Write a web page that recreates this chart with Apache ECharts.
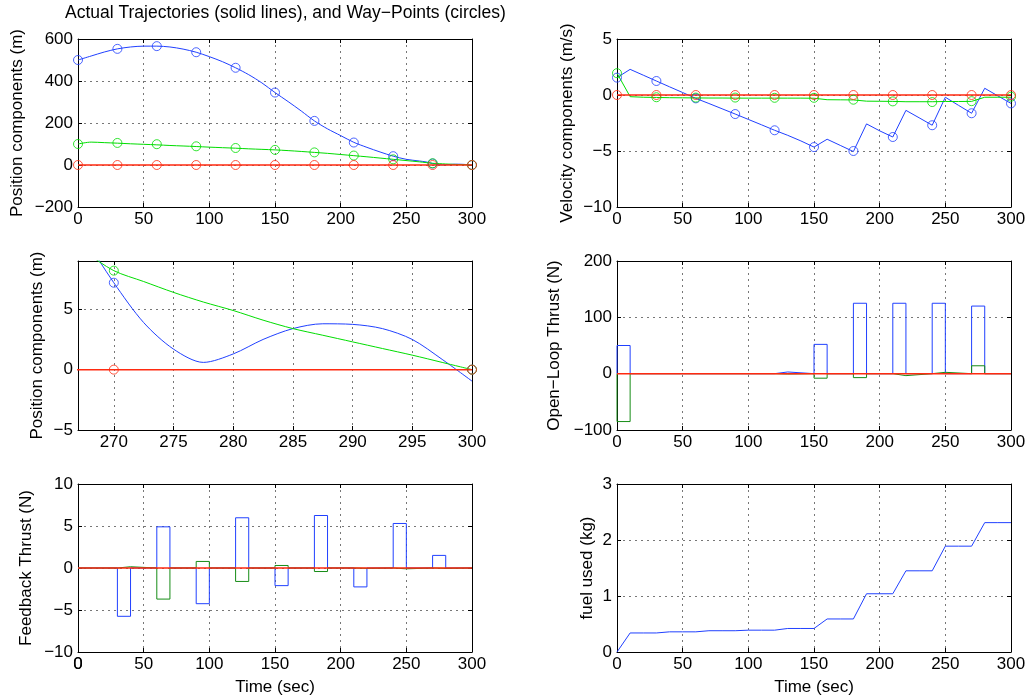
<!DOCTYPE html>
<html><head><meta charset="utf-8">
<script src="https://cdn.jsdelivr.net/npm/echarts@6/dist/echarts.min.js"></script>
<style>html,body{margin:0;padding:0;background:#fff}#c{width:1029px;height:700px}</style>
</head><body><div id="c"></div>
<script>
// ---------- DATA ----------
const titleText = 'Actual Trajectories (solid lines), and Way\u2212Points (circles)';
// actual trajectory samples (s)
const trajT = [0,10,20,30,40,50,60,70,80,90,100,110,120,130,140,150,160,170,180,190,200,210,220,230,240,250,260,265,267.5,270,272.5,275,277.5,280,282.5,285,287.5,290,292.5,295,297.5,300];
const posX = [500,519,538,553,562,566,566,562,552,537,516,492,463,430,391,345,302,257,210,172,140,108,84,62,42,27,19,14.8,11.0,7.2,3.9,1.7,0.6,1.3,2.5,3.4,3.8,3.75,3.4,2.5,0.85,-0.95];
const posY = [100,109,106.5,104,101,98.5,96,93,90.5,88,85,82.5,80,77,74.5,72,68.5,64.5,60,55.5,50,44.5,39,33,27,21,15,11.4,9.8,8.2,7.3,6.4,5.6,4.9,4.1,3.4,2.85,2.3,1.75,1.2,0.6,0];
const posZ = [0,0,0,0,0,0,0,0,0,0,0,0,0,0,0,0,0,0,0,0,0,0,0,0,0,0,0,0,0,0,0,0,0,0,0,0,0,0,0,0,0,0];
// way-points
const wpT = [0,30,60,90,120,150,180,210,240,270,300];
const wpPosX = [500,553,566,537,463,345,210,107,42,7.2,0];
const wpPosY = [100,105,99,89,81,72,60,45,27,8.2,0];
const wpPosZ = [0,0,0,0,0,0,0,0,0,0,0];
const wpVelX = [1.55,1.25,-0.3,-1.7,-3.15,-4.65,-5.0,-3.75,-2.7,-1.63,-0.75];
const wpVelY = [1.95,-0.2,-0.23,-0.23,-0.25,-0.25,-0.42,-0.57,-0.63,-0.55,-0.15];
const wpVelZ = [0,0,0,0,0,0,0,0,0,0,0];
// velocity & fuel samples
const velT = [0,10,20,30,40,50,60,70,80,90,100,110,120,130,140,150,160,170,180,190,200,210,220,230,240,250,260,270,280,290,300];
const velX = [1.55,2.29,1.77,1.25,0.73,0.22,-0.3,-0.76,-1.23,-1.7,-2.18,-2.66,-3.15,-3.6,-4.1,-4.65,-3.95,-4.5,-5.05,-2.58,-3.2,-3.75,-1.37,-2.03,-2.7,-0.2,-0.92,-1.63,0.6,-0.08,-0.75];
const velY = [1.95,-0.15,-0.2,-0.22,-0.24,-0.25,-0.26,-0.27,-0.27,-0.28,-0.28,-0.28,-0.28,-0.28,-0.28,-0.29,-0.42,-0.43,-0.44,-0.55,-0.56,-0.57,-0.6,-0.6,-0.6,-0.58,-0.58,-0.57,-0.2,-0.2,-0.2];
const velZ = [0,0,0,0,0,0,0,0,0,0,0,0,0,0,0,0,0,0,0,0,0,0,0,0,0,0,0,0,0,0,0];
const fuel = [0,0.34,0.34,0.34,0.36,0.36,0.36,0.38,0.38,0.38,0.39,0.39,0.39,0.42,0.42,0.42,0.59,0.59,0.59,1.04,1.04,1.04,1.45,1.45,1.45,1.89,1.89,1.89,2.31,2.31,2.31];
// thrust burns (start time, 10 s each)
const BURN = 10, T_END = 300;
const olStart = [0,120,150,180,210,240,270];
const olX = [50,3,52,125,125,125,120];
const olY = [-85,-0.6,-8,-7,-3.5,2.4,14];
const olZ = [0,0,0,0,0,0,0];
const fbStart = [30,60,90,120,150,180,210,240,270];
const fbX = [-5.75,4.9,-4.25,5.98,-2.1,6.25,-2.25,5.3,1.5];
const fbY = [0.15,-3.7,0.78,-1.6,0.3,-0.42,-0.05,-0.1,-0.05];
const fbZ = [0,0,0,0,0,0,0,0,0];

// ---------- STYLE ----------
const F = "'Liberation Sans', Arial, Helvetica, sans-serif";
const BLUE = '#2040ff', GREEN = '#00dd00', DGREEN = '#168c16', RED = '#ff2a10';
const minus = v => String(v).replace('-', '\u2212');

const grids = [
  {left:78, top:39, width:394, height:168},
  {left:617, top:39, width:394, height:168},
  {left:78, top:261, width:394, height:169},
  {left:617, top:261, width:394, height:169},
  {left:78, top:484, width:394, height:168},
  {left:617, top:484, width:394, height:168}
];
const xAxes = [], yAxes = [], nameAxes = [];
function addAxes(gi, xr, yr, yName, yGap, xName, extra) {
  extra = extra || {};
  const gridLine = {show:true, lineStyle:{color:'#777', type:[2,4], width:1}};
  const tick = {show:true, inside:true, length:4, lineStyle:{color:'#000', width:1}};
  const line = {show:true, onZero:false, lineStyle:{color:'#000', width:1}};
  const lab = {color:'#000', fontSize:17, fontFamily:F, formatter:minus, hideOverlap:false};
  xAxes.push({type:'value', gridIndex:gi, position:'bottom', min:xr[0], max:xr[1], interval:xr[2],
    axisLine:line, axisTick:tick, splitLine:gridLine,
    axisLabel:Object.assign({margin:4, showMinLabel:extra.xShowMin !== false, showMaxLabel:true}, lab)});
  xAxes.push({type:'value', gridIndex:gi, position:'top', min:xr[0], max:xr[1], interval:xr[2],
    axisLine:line, axisTick:tick, splitLine:{show:false}, axisLabel:{show:false}});
  if (xName) {
    nameAxes.push({type:'value', gridIndex:gi, position:'bottom', min:xr[0], max:xr[1], interval:xr[2],
      axisLine:{show:false, onZero:false}, axisTick:{show:false}, axisLabel:{show:false}, splitLine:{show:false},
      name:xName, nameLocation:'middle', nameGap:27,
      nameTextStyle:{color:'#000', fontSize:17, fontFamily:F}});
  }
  yAxes.push({type:'value', gridIndex:gi, position:'left', min:yr[0], max:yr[1], interval:yr[2],
    axisLine:line, axisTick:tick, splitLine:gridLine,
    axisLabel:Object.assign({margin:5, showMinLabel:true, showMaxLabel:extra.yShowMax !== false}, lab),
    name:yName, nameLocation:'middle', nameGap:yGap,
    nameTextStyle:{color:'#000', fontSize:17, fontFamily:F}});
  yAxes.push({type:'value', gridIndex:gi, position:'right', min:yr[0], max:yr[1], interval:yr[2],
    axisLine:line, axisTick:tick, splitLine:{show:false}, axisLabel:{show:false}});
}
addAxes(0, [0,300,50], [-200,600,200], 'Position components (m)', 52);
addAxes(1, [0,300,50], [-10,5,5], 'Velocity components (m/s)', 41);
addAxes(2, [267,300,undefined], [-5,9,5], 'Position components (m)', 32, '', {xShowMin:false, yShowMax:false});
addAxes(3, [0,300,50], [-100,200,100], 'Open\u2212Loop Thrust (N)', 54);
addAxes(4, [0,300,50], [-10,10,5], 'Feedback Thrust (N)', 43, 'Time (sec)');
addAxes(5, [0,300,50], [0,3,1], 'fuel used (kg)', 21, 'Time (sec)');

const zip = (t, v) => t.map((x, i) => [x, v[i]]);
function burnPath(starts, vals) {
  const pts = [[0, 0]];
  starts.forEach((s, i) => { pts.push([s, 0], [s, vals[i]], [s + BURN, vals[i]], [s + BURN, 0]); });
  pts.push([T_END, 0]);
  return pts;
}
function line(gi, data, color, opts) {
  return Object.assign({type:'line', xAxisIndex:2*gi, yAxisIndex:2*gi, data:data, showSymbol:false,
    symbol:'none', clip:true, lineStyle:{color:color, width:1}, itemStyle:{color:color}, z:2}, opts || {});
}
function circles(gi, data, color) {
  return {type:'scatter', xAxisIndex:2*gi, yAxisIndex:2*gi, data:data, symbol:'circle', symbolSize:9, clip:true,
    itemStyle:{color:'rgba(0,0,0,0)', borderColor:color, borderWidth:1}, z:3};
}
const series = [];
[0, 2].forEach(gi => {
  series.push(line(gi, zip(trajT, posX), BLUE, {smooth:0.3}));
  series.push(line(gi, zip(trajT, posY), GREEN, {smooth:0.3}));
  series.push(line(gi, zip(trajT, posZ), RED, {lineStyle:{color:RED, width:1.5}}));
  series.push(circles(gi, zip(wpT, wpPosX), BLUE));
  series.push(circles(gi, zip(wpT, wpPosY), GREEN));
  series.push(circles(gi, zip(wpT, wpPosZ), RED));
});
series.push(line(1, zip(velT, velX), BLUE));
series.push(line(1, zip(velT, velY), GREEN));
series.push(line(1, zip(velT, velZ), RED, {lineStyle:{color:RED, width:1.5}}));
series.push(circles(1, zip(wpT, wpVelX), BLUE));
series.push(circles(1, zip(wpT, wpVelY), GREEN));
series.push(circles(1, zip(wpT, wpVelZ), RED));
series.push(line(3, burnPath(olStart, olX), BLUE));
series.push(line(3, burnPath(olStart, olY), DGREEN));
series.push(line(3, burnPath(olStart, olZ), RED, {lineStyle:{color:RED, width:1.5}}));
series.push(line(4, burnPath(fbStart, fbX), BLUE));
series.push(line(4, burnPath(fbStart, fbY), DGREEN));
series.push(line(4, burnPath(fbStart, fbZ), RED, {lineStyle:{color:RED, width:1.5}}));
series.push(line(5, zip(velT, fuel), BLUE));

const chart = echarts.init(document.getElementById('c'), null, {renderer:'canvas'});
chart.setOption({
  animation:false,
  backgroundColor:'#fff',
  title:{text:titleText, left:60, top:-1, textStyle:{fontSize:17.5, fontWeight:'normal', color:'#000', fontFamily:F}},
  grid:grids, xAxis:xAxes.concat(nameAxes), yAxis:yAxes, series:series
});

// the library drops the first time tick label of the lower-left panel; place it from the axis scale
const p0 = chart.convertToPixel({xAxisIndex:8, yAxisIndex:8}, [0, -10]);
if (p0 && isFinite(p0[0]) && isFinite(p0[1])) {
  chart.setOption({graphic:[{type:'text', x:p0[0], y:p0[1] + 4, z:100,
    style:{text:'0', fill:'#000', font:'17px ' + F, align:'center', verticalAlign:'top',
           textAlign:'center', textVerticalAlign:'top'}}]});
}
</script></body></html>
